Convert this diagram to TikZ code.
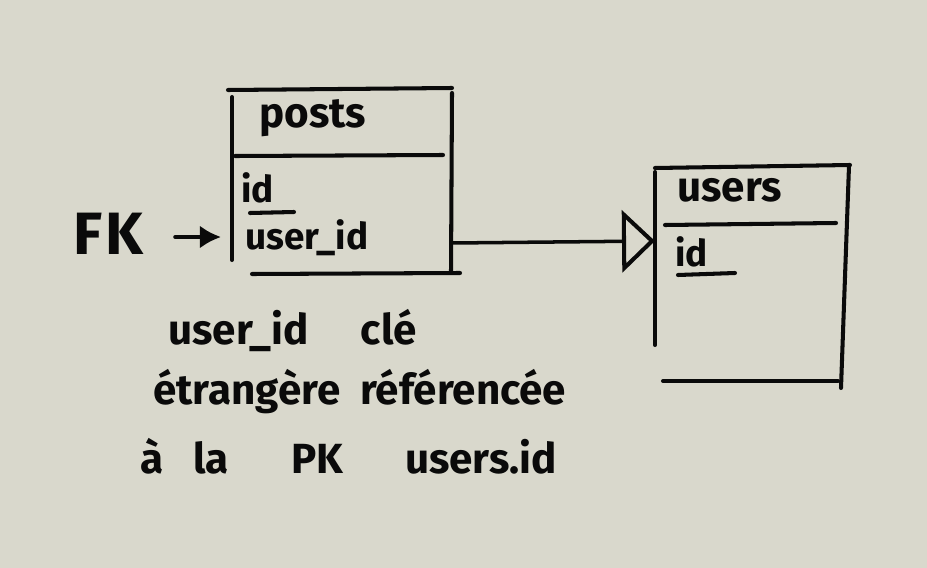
\documentclass[tikz,border=0pt]{standalone}
\usepackage{fontspec}
\setmainfont{Fira Sans}
\usetikzlibrary{arrows.meta}
\definecolor{paper}{RGB}{217,216,204}
\definecolor{ink}{RGB}{10,10,10}
\tikzset{
  pen/.style={draw=ink, line width=2.3pt, line cap=round},
  thinpen/.style={draw=ink, line width=2pt, line cap=round},
  hand/.style={text=ink, inner sep=0pt, font=\fontsize{24}{28}\selectfont\bfseries},
  field/.style={text=ink, inner sep=0pt, font=\fontsize{21}{24}\selectfont\bfseries},
}
\begin{document}
\begin{tikzpicture}[x=0.02cm, y=-0.02cm]
\fill[paper] (0,0) rectangle (927,568);
\useasboundingbox (0,0) rectangle (927,568);

% posts table
\draw[pen] (228,90) -- (452,88);
\draw[pen] (232,97) -- (232,260);
\draw[pen] (452,93) -- (451,272);
\draw[pen] (235,156) -- (443,155);
\draw[pen] (252,274) -- (460,273);
\node[hand, anchor=west] (poststitle) at (259,118) {posts};
\node[field, anchor=west] (postsid) at (241,188) {id};
\draw[pen] (250,213) -- (294,212);
\node[field, anchor=west] (postsuid) at (245,238) {user\_id};
\coordinate (pr) at (452,243);

% FK label and arrow
\node[text=ink, inner sep=0pt, font=\fontsize{34}{38}\selectfont\bfseries, anchor=west] (fk) at (73,234) {F\kern2pt K};
\coordinate (fkstart) at (175,237);
\coordinate (fkarrow) at (221,237);
\draw[thinpen, -{Latex[length=12pt,width=13pt]}] (fkstart) -- (fkarrow);

% users table
\draw[pen] (655,168) -- (850,165);
\draw[pen] (655,172) -- (655,345);
\draw[pen] (849,166) -- (841,388);
\draw[pen] (665,225) -- (836,223);
\draw[pen] (663,381) -- (838,381);
\node[hand, anchor=west] (userstitle) at (677,190) {users};
\node[field, anchor=west] (usersid) at (675,252) {id};
\draw[pen] (678,275) -- (735,273);
\coordinate (ul) at (655,241);

% connector with open triangle head
\draw[draw=ink, line width=2pt, -{Triangle[open, length=0.66cm, width=1.24cm, line width=2.3pt]}] (pr) -- (ul);

% note
\node[hand, anchor=west] (n1) at (168,330) {user\_id\quad\ clé};
\node[hand, anchor=west] (n2) at (153,392) {étrangère\ \ référencée};
\node[hand, anchor=west] (n3) at (140,456) {à\ \ \ la\quad\ \ PK\quad\ \ users.id};
\end{tikzpicture}
\end{document}
